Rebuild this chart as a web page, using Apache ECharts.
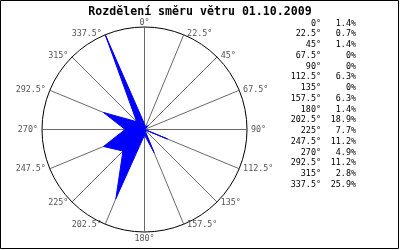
<!DOCTYPE html>
<html><head><meta charset="utf-8">
<script src="https://cdn.jsdelivr.net/npm/echarts@6/dist/echarts.min.js"></script>
<style>html,body{margin:0;padding:0;background:#fff}#c{width:400px;height:250px}</style>
</head><body><div id="c"></div>
<script>
var titleText = "Rozdělení směru větru 01.10.2009";
var directions = [0, 22.5, 45, 67.5, 90, 112.5, 135, 157.5, 180, 202.5, 225, 247.5, 270, 292.5, 315, 337.5];
var percents = [1.4, 0.7, 1.4, 0, 0, 6.3, 0, 6.3, 1.4, 18.9, 7.7, 11.2, 4.9, 11.2, 2.8, 25.9];

var maxVal = Math.max.apply(null, percents);
// radar goes counter-clockwise: reorder so compass runs clockwise
var order = [0];
for (var i = directions.length - 1; i >= 1; i--) order.push(i);
var indicators = order.map(function (i) { return { name: directions[i] + "°", max: maxVal, min: 0 }; });
var values = order.map(function (i) { return percents[i]; });

var mono = "'DejaVu Sans Mono', monospace";
var legendTexts = [];
directions.forEach(function (d, i) {
  var y = 23.5 + i * 10.75;
  legendTexts.push({
    type: 'text', x: 321, y: y, silent: true,
    style: { text: d + "°", font: "8.4px " + mono, fill: '#000', textAlign: 'right', textVerticalAlign: 'middle' }
  });
  legendTexts.push({
    type: 'text', x: 356, y: y, silent: true,
    style: { text: percents[i] + "%", font: "8.4px " + mono, fill: '#000', textAlign: 'right', textVerticalAlign: 'middle' }
  });
});

var chart = echarts.init(document.getElementById('c'), null, { renderer: 'canvas' });
chart.setOption({
  animation: false,
  backgroundColor: '#fff',
  title: {
    text: titleText, left: 'center', top: 1,
    textStyle: { fontFamily: mono, fontWeight: 'bold', fontSize: 11.6, color: '#000' }
  },
  radar: {
    center: [144.5, 129.5],
    radius: 102.5,
    startAngle: 90,
    shape: 'circle',
    splitNumber: 1,
    indicator: indicators,
    nameGap: 1,
    axisName: { fontFamily: mono, fontSize: 8.4, color: '#555', padding: [2, 3, -1, 3] },
    axisLine: { lineStyle: { color: '#6a6a6a', width: 1 } },
    splitLine: { lineStyle: { color: '#000', width: 1 } },
    splitArea: { show: false },
    axisTick: { show: false },
    axisLabel: { show: false }
  },
  series: [{
    type: 'radar',
    symbol: 'none',
    data: [{ value: values }],
    lineStyle: { color: '#0000ff', width: 1 },
    areaStyle: { color: '#0000ff', opacity: 1 }
  }],
  graphic: legendTexts.concat([{
    type: 'rect', shape: { x: 0.5, y: 0.5, width: 398, height: 248 },
    style: { fill: null, stroke: '#000', lineWidth: 1 }, silent: true
  }])
});
</script></body></html>
